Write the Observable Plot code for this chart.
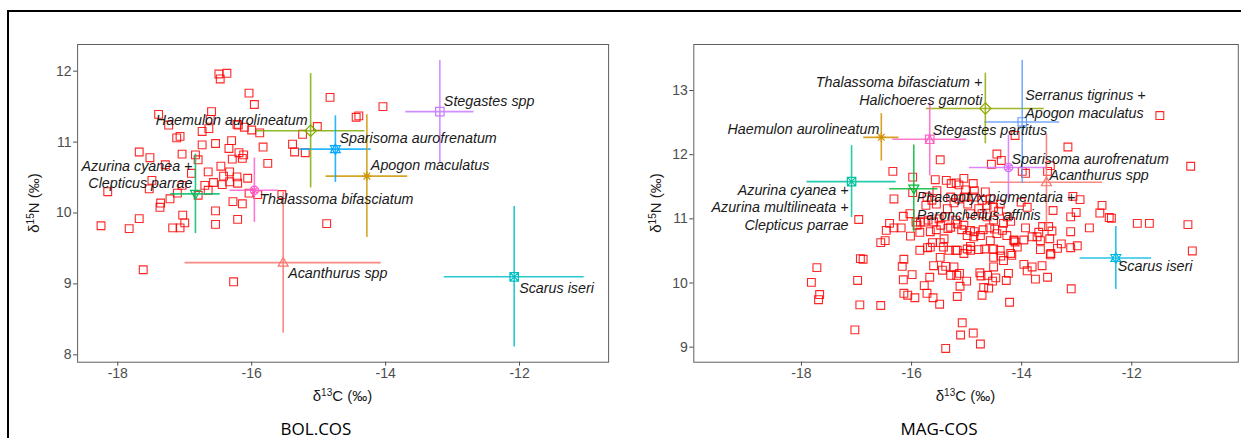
<!DOCTYPE html>
<html>
<head>
<meta charset="utf-8">
<script src="https://cdn.jsdelivr.net/npm/d3@7"></script>
<script src="https://cdn.jsdelivr.net/npm/@observablehq/plot@0.6"></script>
<style>
  body { margin: 0; background: #fff; }
  #page { position: relative; width: 1241px; height: 438px; overflow: hidden; background: #fff;
          font-family: "Liberation Sans", Arial, sans-serif; }
  #box { position: absolute; left: 7px; top: 10px; width: 1260px; height: 460px;
         border-top: 2px solid #000; border-left: 2px solid #000; }
  .panel { position: absolute; top: 0; }
  .axtitle { position: absolute; white-space: nowrap; font-size: 15px; line-height: 18px; color: #1a1a1a;
             transform: translate(-50%, -50%); }
  .axtitle.rot { transform: translate(-50%, -50%) rotate(-90deg); }
  .axtitle sup { font-size: 10px; vertical-align: 5px; line-height: 0; }
  .ptitle { position: absolute; white-space: nowrap; font-family: "Open Sans", sans-serif;
            font-size: 17px; line-height: 17px; color: #000; transform: translate(-50%, -50%); }
</style>
</head>
<body>
<div id="page">
  <div id="box"></div>
  <div class="panel" id="bol" style="left:0px"></div>
  <div class="panel" id="mag" style="left:620px"></div>
  <div class="axtitle rot" style="left:34px; top:203px">δ<sup>15</sup>N (‰)</div>
  <div class="axtitle" style="left:342.5px; top:396px">δ<sup>13</sup>C (‰)</div>
  <div class="axtitle rot" style="left:656px; top:203px">δ<sup>15</sup>N (‰)</div>
  <div class="axtitle" style="left:965.5px; top:396px">δ<sup>13</sup>C (‰)</div>
  <div class="ptitle" style="left:316px; top:428px">BOL.COS</div>
  <div class="ptitle" style="left:939px; top:428px">MAG-COS</div>
</div>
<script>
// ---------- BOL.COS : individual consumers (δ13C, δ15N) ----------
const bolC = [-16.49,-16.37,-16.47,-16.04,-15.96,-14.83,-14.04,-14.44,-14.40,-17.39,
  -16.60,-17.24,-16.62,-16.64,-16.22,-16.20,-16.11,-16.00,-15.88,-16.74,
  -17.07,-17.12,-16.54,-16.74,-16.30,-16.34,-16.19,-16.12,-16.14,-15.83,
  -15.24,-15.39,-15.36,-15.20,-15.02,-17.68,-17.52,-17.04,-16.84,-16.80,
  -16.90,-16.65,-16.46,-16.29,-15.76,-17.29,-17.49,-18.15,-17.53,-17.11,
  -17.04,-16.70,-16.57,-16.44,-16.42,-16.33,-16.33,-16.22,-16.21,-16.06,
  -16.04,-15.91,-15.55,-16.65,-16.80,-17.22,-17.36,-17.37,-16.28,-16.14,
  -16.54,-17.03,-17.00,-18.25,-17.83,-17.68,-17.18,-17.07,-16.54,-16.21,
  -14.88,-17.62,-16.27];
const bolN = [11.96,11.97,11.89,11.69,11.53,11.63,11.50,11.35,11.37,11.39,
  11.43,11.24,11.32,11.19,11.25,11.24,11.21,11.17,11.13,11.15,
  11.08,11.06,10.98,10.96,11.02,10.91,10.85,10.82,10.77,10.93,
  11.11,10.97,10.86,10.85,11.22,10.86,10.78,10.83,10.82,10.75,
  10.56,10.58,10.66,10.76,10.70,10.68,10.46,10.30,10.34,10.28,
  10.39,10.39,10.43,10.40,10.52,10.58,10.44,10.51,10.42,10.49,
  10.28,10.26,10.26,10.32,10.25,10.20,10.14,10.08,10.16,10.13,
  10.03,9.97,9.86,9.82,9.78,9.92,9.79,9.79,9.84,9.91,
  9.85,9.20,9.03];

// BOL.COS prey sources: mean ± SD
const bolSpecies = ["Acanthurus spp","Apogon maculatus","Azurina cyanea + Clepticus parrae",
  "Haemulon aurolineatum","Scarus iseri","Sparisoma aurofrenatum","Stegastes spp","Thalassoma bifasciatum"];
const bolMeanC = [-15.53,-14.28,-16.84,-15.12,-12.08,-14.75,-13.19,-15.96];
const bolMeanN = [9.30,10.52,10.27,11.16,9.10,10.90,11.43,10.32];
const bolSdC   = [1.465,0.61,0.37,0.81,1.045,0.535,0.51,0.365];
const bolSdN   = [0.995,0.865,0.56,0.805,0.99,0.47,0.72,0.455];

// ---------- MAG-COS : individual consumers ----------
const magC = [-17.72,-17.82,-17.67,-17.69,-16.96,-16.93,-16.98,-16.94,-17.03,
  -16.34,-15.98,-15.57,-15.37,-15.28,-15.19,-15.14,-15.05,-14.88,-15.48,
  -16.32,-15.98,-15.74,-15.55,-15.35,-15.23,-15.14,-14.98,-14.87,-14.66,-14.57,-14.39,
  -16.40,-16.32,-16.46,-16.19,-16.15,-16.03,-15.92,-15.84,-15.77,-15.70,-15.85,-15.66,
  -15.55,-15.50,-15.39,-15.34,-15.20,-15.09,-14.93,-14.86,-14.70,-14.58,-14.49,-14.33,-14.35,
  -16.56,-16.48,-16.02,-15.85,-15.71,-15.62,-15.48,-15.41,-15.32,-15.20,-15.48,-14.99,
  -14.93,-14.78,-14.67,-14.51,-14.51,-14.38,-14.18,-14.14,
  -16.88,-16.14,-16.17,-16.15,-15.99,-15.67,-15.77,-15.72,-15.61,-15.49,-15.94,-16.07,-16.14,
  -15.44,-15.38,-15.29,-15.23,-15.18,-15.13,-15.12,-15.00,-15.17,
  -14.76,-14.74,-14.62,-14.47,-14.53,-14.28,-14.69,-14.60,-14.72,-14.22,
  -16.56,-15.08,-15.11,-14.88,-14.75,-15.38,
  -15.02,-14.86,-14.72,-14.63,-14.51,-14.42,-14.26,-14.20,-15.72,-15.63,-15.54,-15.29,
  -15.04,-14.93,-14.78,-14.72,-14.63,-14.51,-15.90,-15.60,-15.47,-15.29,-15.17,-15.05,
  -14.99,-14.87,-14.75,-14.57,-14.45,-14.27,-14.12,-15.66,-15.42,-15.17,-15.05,-14.93,
  -14.39,-14.33,-15.60,-14.51,-14.24,
  -14.45,-14.37,-14.55,
  -11.49,-13.16,-10.93,-13.48,-13.53,-13.93,-13.99,-14.12,
  -12.94,-13.07,-12.54,-12.58,-12.41,-12.37,-12.77,-13.11,-13.01,-13.43,-13.90,-14.01,
  -11.90,-11.68,-10.98,-10.90,
  -13.11,-13.45,-13.62,-13.51,-13.93,
  -13.28,-13.11,-12.99,-13.35,-13.47,
  -13.96,-13.90,-13.81,-13.63,-13.53,-13.75,-13.10,
  -14.20,-14.14,-13.96,-14.08,-13.81,-13.72,-13.66,-13.49,-13.69,-13.66,-13.48];
const magN = [10.24,10.01,9.82,9.74,10.99,10.38,10.04,9.66,9.27,
  11.74,11.65,11.61,11.60,11.55,11.56,11.53,11.63,11.55,11.92,
  11.31,11.41,11.21,11.23,11.16,11.25,11.31,11.23,11.34,11.42,11.31,11.23,
  10.93,10.86,10.82,10.86,11.04,11.08,10.95,10.95,10.95,10.98,10.79,10.80,
  10.83,11.00,11.03,10.85,10.98,10.83,10.82,10.80,10.83,10.86,10.84,10.93,10.82,
  10.63,10.66,10.73,10.51,10.55,10.63,10.63,10.69,10.51,10.51,10.40,10.53,
  10.57,10.52,10.53,10.53,10.40,10.42,10.43,10.66,
  10.37,10.37,10.26,10.05,10.13,10.09,9.96,9.84,9.77,9.67,9.77,9.81,9.84,
  10.20,10.26,10.12,10.25,10.12,10.15,9.95,10.03,9.79,
  10.16,10.11,10.12,10.08,10.03,10.04,9.93,9.92,9.81,9.70,
  9.65,9.38,9.19,9.22,9.05,8.98,
  11.45,11.44,11.29,11.21,11.18,11.12,11.03,10.96,11.34,11.29,11.44,11.34,
  11.34,11.08,11.16,11.08,11.03,10.98,10.90,10.95,10.90,10.87,10.92,10.90,
  10.74,10.72,10.74,10.66,10.77,10.74,10.64,10.56,10.56,10.51,10.46,10.51,
  10.51,10.35,10.27,10.25,10.15,
  12.01,11.91,11.85,
  12.61,12.12,11.82,11.83,11.74,11.71,11.74,12.30,
  11.30,11.35,11.21,11.09,11.02,11.01,10.86,11.03,11.10,11.13,11.18,11.26,
  10.93,10.93,10.91,10.50,
  10.80,10.81,10.88,10.88,10.86,
  10.61,10.55,10.58,10.54,10.46,
  10.29,10.19,10.25,10.27,10.09,10.06,9.91,
  10.46,10.67,10.67,10.56,10.72,10.72,10.66,10.69,10.79,10.52,10.44];

// MAG-COS prey sources: mean ± SD
const magSpecies = ["Acanthurus spp","Azurina cyanea + Azurina multilineata + Clepticus parrae",
  "Haemulon aurolineatum","Phaeoptyx pigmentaria + Paroncheilus affinis","Scarus iseri",
  "Serranus tigrinus + Apogon maculatus","Sparisoma aurofrenatum","Stegastes partitus",
  "Thalassoma bifasciatum + Halichoeres garnoti"];
const magMeanC = [-13.55,-17.09,-16.55,-15.96,-12.29,-13.99,-14.24,-15.67,-14.66];
const magMeanN = [11.57,11.58,12.27,11.47,10.39,12.51,11.80,12.24,12.72];
const magSdC   = [1.02,0.81,0.32,0.44,0.65,0.68,0.71,0.67,1.07];
const magSdN   = [0.75,0.56,0.37,0.68,0.49,0.96,0.50,0.57,0.55];

// ---------- open marker shapes (outline symbols) ----------
const half = size => Math.sqrt(size) / 2;
function tri(ctx, w, dir) {
  ctx.moveTo(0, -dir * w * 1.05);
  ctx.lineTo(w * 1.0, dir * w * 0.7);
  ctx.lineTo(-w * 1.0, dir * w * 0.7);
  ctx.closePath();
}
function star(ctx, w) {
  for (let k = 0; k < 4; k++) {
    const a = k * Math.PI / 4;
    ctx.moveTo(-w * Math.cos(a), -w * Math.sin(a));
    ctx.lineTo(w * Math.cos(a), w * Math.sin(a));
  }
}
const shapes = {
  triangleUp:   {draw(ctx, s) { tri(ctx, half(s), 1); }},
  triangleDown: {draw(ctx, s) { tri(ctx, half(s), -1); }},
  diamond:      {draw(ctx, s) { const w = half(s) * 1.15;
                  ctx.moveTo(0, -w); ctx.lineTo(w, 0); ctx.lineTo(0, w); ctx.lineTo(-w, 0); ctx.closePath(); }},
  square:       {draw(ctx, s) { const w = half(s) * 0.85; ctx.rect(-w, -w, 2 * w, 2 * w); }},
  squareX:      {draw(ctx, s) { const w = half(s) * 0.85; ctx.rect(-w, -w, 2 * w, 2 * w);
                  ctx.moveTo(-w, -w); ctx.lineTo(w, w); ctx.moveTo(w, -w); ctx.lineTo(-w, w); }},
  squareTri:    {draw(ctx, s) { const w = half(s) * 0.85; ctx.rect(-w, -w, 2 * w, 2 * w);
                  ctx.moveTo(0, -w); ctx.lineTo(w, w); ctx.lineTo(-w, w); ctx.closePath(); }},
  asterisk:     {draw(ctx, s) { star(ctx, half(s) * 0.95); }},
  starDavid:    {draw(ctx, s) { const w = half(s); tri(ctx, w, 1); tri(ctx, w, -1); }},
  circleStar:   {draw(ctx, s) { const w = half(s) * 0.85;
                  ctx.moveTo(w, 0); ctx.arc(0, 0, w, 0, 2 * Math.PI); star(ctx, w); }}
};

// colours, shapes and label placement for each source group
const bolStyle = {
  "Acanthurus spp":                   {color: "#F8766D", shape: "triangleUp",   anchor: "start", dx: 5,  dy: 10},
  "Apogon maculatus":                 {color: "#CD9600", shape: "asterisk",     anchor: "start", dx: 4,  dy: -11.5},
  "Azurina cyanea + Clepticus parrae":{color: "#00BE67", shape: "triangleDown", anchor: "end",   dx: -3, dy: -20},
  "Haemulon aurolineatum":            {color: "#7CAE00", shape: "diamond",      anchor: "end",   dx: -3, dy: -11},
  "Scarus iseri":                     {color: "#00BFC4", shape: "squareX",      anchor: "start", dx: 5,  dy: 10},
  "Sparisoma aurofrenatum":           {color: "#00A9FF", shape: "starDavid",    anchor: "start", dx: 4,  dy: -12},
  "Stegastes spp":                    {color: "#C77CFF", shape: "square",       anchor: "start", dx: 4,  dy: -11},
  "Thalassoma bifasciatum":           {color: "#FF61CC", shape: "circleStar",   anchor: "start", dx: 5,  dy: 8}
};
const magStyle = {
  "Acanthurus spp":                   {color: "#F8766D", shape: "triangleUp",   anchor: "start", dx: 3,  dy: -8},
  "Azurina cyanea + Azurina multilineata + Clepticus parrae":
                                      {color: "#00C19F", shape: "squareX",      anchor: "end",   dx: -3, dy: 25},
  "Haemulon aurolineatum":            {color: "#D39200", shape: "asterisk",     anchor: "end",   dx: -2, dy: -9},
  "Phaeoptyx pigmentaria + Paroncheilus affinis":
                                      {color: "#00BA38", shape: "triangleDown", anchor: "start", dx: 3,  dy: 17},
  "Scarus iseri":                     {color: "#00B9E3", shape: "starDavid",    anchor: "start", dx: 2,  dy: 7.5},
  "Serranus tigrinus + Apogon maculatus":
                                      {color: "#619CFF", shape: "square",       anchor: "start", dx: 3,  dy: -18.5},
  "Sparisoma aurofrenatum":           {color: "#DB72FB", shape: "circleStar",   anchor: "start", dx: 3,  dy: -9},
  "Stegastes partitus":               {color: "#FF61C3", shape: "squareTri",    anchor: "start", dx: 3,  dy: -9.5},
  "Thalassoma bifasciatum + Halichoeres garnoti":
                                      {color: "#93AA00", shape: "diamond",      anchor: "end",   dx: -3, dy: -18}
};

function buildGroups(names, mc, mn, sc, sn, style) {
  return names.map((name, i) => ({
    name, c: mc[i], n: mn[i], sdC: sc[i], sdN: sn[i],
    label: name.replace(/ \+ /g, " +\n"),
    ...style[name]
  }));
}

function panel({width, marginLeft, marginRight, xDomain, yDomain, yTicks, pc, pn, groups}) {
  const pts = pc.map((c, i) => ({c, n: pn[i]}));
  const marks = [
    Plot.dot(pts, {x: "c", y: "n", symbol: "square", r: 4.4, fill: "none",
                   stroke: "#ff0000", strokeWidth: 1.1, strokeOpacity: 0.85}),
    Plot.ruleY(groups, {y: "n", x1: d => d.c - d.sdC, x2: d => d.c + d.sdC,
                        stroke: "color", strokeWidth: 1.6, strokeOpacity: 0.85}),
    Plot.ruleX(groups, {x: "c", y1: d => d.n - d.sdN, y2: d => d.n + d.sdN,
                        stroke: "color", strokeWidth: 1.6, strokeOpacity: 0.85}),
    ...groups.map(g => Plot.dot([g], {x: "c", y: "n", symbol: shapes[g.shape], r: 5.6,
                        fill: "none", stroke: g.color, strokeWidth: 1.2})),
    ...groups.map(g => Plot.text([g], {x: "c", y: "n", text: "label", textAnchor: g.anchor,
                        dx: g.dx, dy: g.dy, fontStyle: "italic", fontSize: 14.3,
                        lineHeight: 1.24, fill: "#1a1a1a"})),
    Plot.frame({stroke: "#5f5f5f", strokeWidth: 1})
  ];
  return Plot.plot({
    width, height: 410,
    marginLeft, marginRight, marginTop: 44, marginBottom: 48.3,
    x: {domain: xDomain, ticks: [-18, -16, -14, -12], tickSize: 4, tickPadding: 2,
        tickFormat: d => String(d), label: null},
    y: {domain: yDomain, ticks: yTicks, tickSize: 4, tickPadding: 2,
        tickFormat: d => String(d), label: null},
    color: {type: "identity"},
    style: {fontFamily: "'Liberation Sans', Arial, sans-serif", fontSize: "14px",
            color: "#4d4d4d", background: "transparent", overflow: "visible"},
    marks
  });
}

document.getElementById("bol").append(panel({
  width: 620, marginLeft: 77.1, marginRight: 11.9,
  xDomain: [-18.60, -10.67], yDomain: [7.896, 12.376], yTicks: [8, 9, 10, 11, 12],
  pc: bolC, pn: bolN,
  groups: buildGroups(bolSpecies, bolMeanC, bolMeanN, bolSdC, bolSdN, bolStyle)
}));

document.getElementById("mag").append(panel({
  width: 621, marginLeft: 73.3, marginRight: 3.2,
  xDomain: [-19.956, -10.065], yDomain: [8.766, 13.717], yTicks: [9, 10, 11, 12, 13],
  pc: magC, pn: magN,
  groups: buildGroups(magSpecies, magMeanC, magMeanN, magSdC, magSdN, magStyle)
}));
</script>
</body>
</html>
